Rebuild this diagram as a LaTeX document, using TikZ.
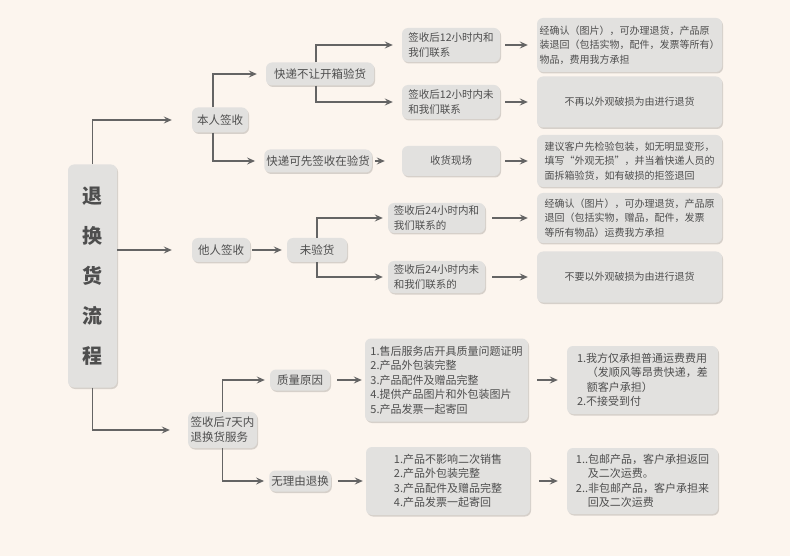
\documentclass[tikz,border=0pt]{standalone}
\usepackage{fontspec}
\setmainfont{Noto Sans CJK SC}
\usetikzlibrary{arrows.meta,shadows}
\definecolor{bgcream}{HTML}{FCF5EE}
\definecolor{boxgray}{HTML}{E2E1DF}
\definecolor{linegray}{HTML}{646464}
\definecolor{txtgray}{HTML}{4E4E4E}

\begin{document}
\begin{tikzpicture}[x=1pt, y=-1pt,
	box/.style={fill=boxgray, text=txtgray, rounded corners=6pt, inner sep=2pt, align=left,
		font=\fontsize{11.5}{15}\selectfont,
		drop shadow={shadow xshift=1pt, shadow yshift=-1.5pt, opacity=0.15, fill=black}},
	ask/.style={box, minimum width=98pt, font=\fontsize{10.5}{15}\selectfont},
	note/.style={box, minimum width=185pt, font=\fontsize{10}{14.5}\selectfont},
	list/.style={box, font=\fontsize{11}{14.5}\selectfont},
	link/.style={draw=linegray, line width=1.8pt, -{Stealth[length=8pt,width=7pt,inset=3pt]}, shorten >=9pt}]
	\fill[bgcream] (0,0) rectangle (790,556);
	\node[box, minimum width=49pt, minimum height=223pt, align=center, font=\fontsize{20}{40}\selectfont\bfseries] (flow) at (92.5,276) {退\\换\\货\\流\\程};
	\node[box, minimum width=56pt, minimum height=25pt] (self) at (220,120) {本人签收};
	\node[box, minimum width=58pt, minimum height=24pt] (other) at (221,250) {他人签收};
	\node[box, minimum width=69pt, minimum height=36pt] (week) at (222.5,430) {签收后7天内\\退换货服务};
	\node[box, minimum width=108pt, minimum height=23pt] (nobox) at (320,74) {快递不让开箱验货};
	\node[box, minimum width=106pt, minimum height=23pt] (signfirst) at (318,161) {快递可先签收在验货};
	\node[box, minimum width=60pt, minimum height=24pt] (unchk) at (317,250) {未验货};
	\node[box, minimum width=60pt, minimum height=21pt] (quality) at (300,380) {质量原因};
	\node[box, minimum width=60pt, minimum height=21pt] (noreason) at (300,481) {无理由退换};
	\node[ask, minimum height=34pt] (in12) at (451,45) {签收后12小时内和\\我们联系};
	\node[ask, minimum height=34pt] (out12) at (451,102) {签收后12小时内未\\和我们联系};
	\node[ask, minimum height=30pt] (scene) at (451,161) {收货现场};
	\node[ask, minimum width=97pt, minimum height=30pt] (in24) at (436.5,218) {签收后24小时内和\\我们联系的};
	\node[ask, minimum width=97pt, minimum height=32pt] (out24) at (436.5,277) {签收后24小时内未\\和我们联系的};
	\node[note, minimum height=54pt] (r1) at (629.5,45) {经确认（图片），可办理退货，产品原\\装退回（包括实物，配件，发票等所有）\\物品，费用我方承担};
	\node[note, minimum height=51pt] (r2) at (629.5,102) {不再以外观破损为由进行退货};
	\node[note, minimum height=52pt] (r3) at (629.5,161) {建议客户先检验包装，如无明显变形，\\填写“外观无损”，并当着快递人员的\\面拆箱验货，如有破损的拒签退回};
	\node[note, minimum height=50pt] (r4) at (629.5,218) {经确认（图片），可办理退货，产品原\\退回（包括实物，赠品，配件，发票\\等所有物品）运费我方承担};
	\node[note, minimum height=51pt] (r5) at (629.5,277) {不要以外观破损为由进行退货};
	\node[list, minimum width=163pt, minimum height=83pt] (qlist) at (446.5,380) {1.售后服务店开具质量问题证明\\2.产品外包装完整\\3.产品配件及赠品完整\\4.提供产品图片和外包装图片\\5.产品发票一起寄回};
	\node[list, minimum width=164pt, minimum height=68pt] (nlist) at (448,481) {1.产品不影响二次销售\\2.产品外包装完整\\3.产品配件及赠品完整\\4.产品发票一起寄回};
	\node[list, minimum width=151pt, minimum height=68pt] (qfee) at (642.5,380) {1.我方仅承担普通运费费用\\\hspace*{0.9em}（发顺风等昂贵快递，差\\\hspace*{0.9em}额客户承担）\\2.不接受到付};
	\node[list, minimum width=151pt, minimum height=66pt] (nfee) at (642.5,481) {1..包邮产品，客户承担返回\\\hspace*{1.1em}及二次运费。\\2..非包邮产品，客户承担来\\\hspace*{1.1em}回及二次运费};
	\draw[link, shorten >=20pt] (flow.north) |- (self.west);
	\draw[link, shorten >=20pt] (flow.east |- other.west) -- (other.west);
	\draw[link, shorten >=18pt] (flow.south) |- (week.west);
	\draw[link] ([xshift=-7pt]self.north) |- (nobox.west);
	\draw[link] ([xshift=-7pt]self.south) |- (signfirst.west);
	\draw[link] ([xshift=-4pt]nobox.north) |- (in12.west);
	\draw[link] ([xshift=-4pt]nobox.south) |- (out12.west);
	\draw[link, shorten <=3pt, shorten >=17pt] (signfirst) -- (scene);
	\draw[link, shorten <=5pt] (in12) -- (r1);
	\draw[link, shorten <=5pt] (out12) -- (r2);
	\draw[link, shorten <=5pt] (scene) -- (r3);
	\draw[link, shorten <=2pt, shorten >=5pt] (other) -- (unchk);
	\draw[link, shorten >=5pt] (unchk.north) |- (in24.west);
	\draw[link, shorten >=5pt] (unchk.south) |- (out24.west);
	\draw[link, shorten <=7pt] (in24) -- (r4);
	\draw[link, shorten <=7pt] (out24) -- (r5);
	\draw[link, shorten >=5pt] (week.north) |- (quality.west);
	\draw[link, shorten >=5pt] (week.south) |- (noreason.west);
	\draw[link, shorten <=7pt, shorten >=3pt] (quality) -- (qlist);
	\draw[link, shorten <=7pt, shorten >=3pt] (noreason) -- (nlist);
	\draw[link, shorten <=9pt] (qlist) -- (qfee);
	\draw[link, shorten <=9pt] (nlist) -- (nfee);
\end{tikzpicture}
\end{document}
